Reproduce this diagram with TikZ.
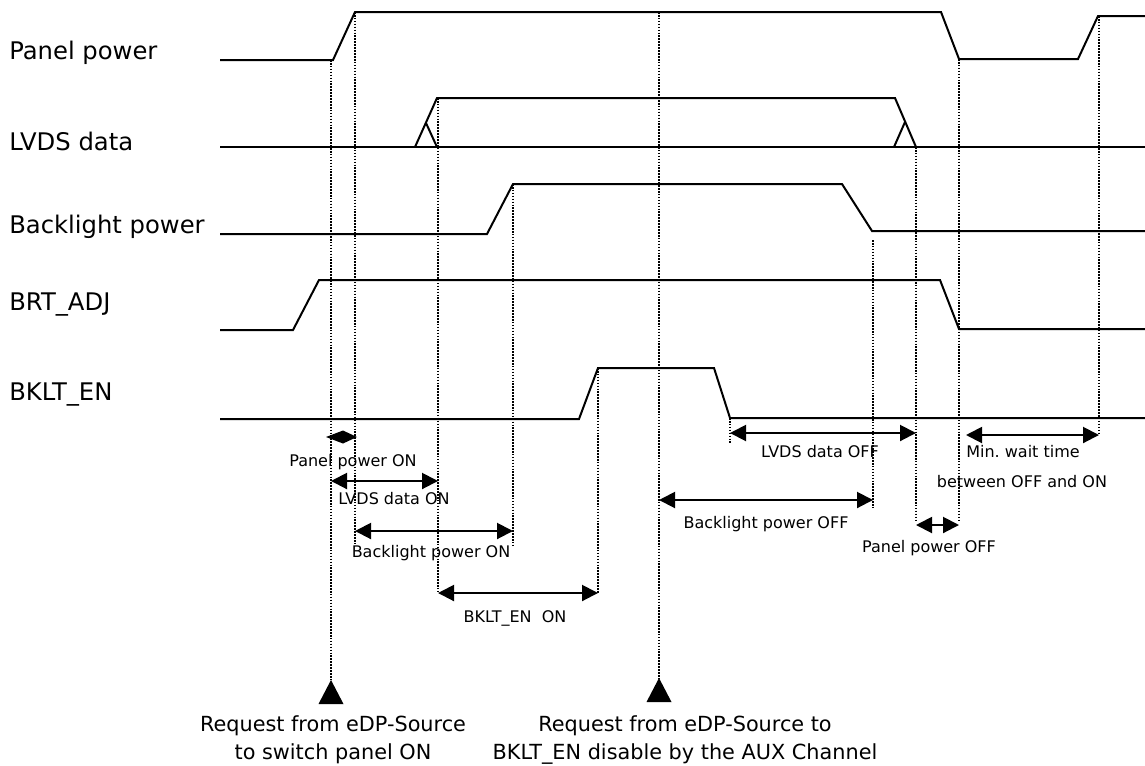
\documentclass[tikz,border=0pt]{standalone}
\usepackage{fontspec}
\setmainfont{DejaVu Sans}
\usepackage{tikz}
\usetikzlibrary{arrows.meta}
\usetikzlibrary{calc}

\begin{document}
\begin{tikzpicture}[x=0.75pt,y=-0.75pt,>={Triangle[length=12pt,width=12pt]},
sig/.style={line width=1.5pt},
guide/.style={line width=1.2pt,dash pattern=on 1.2pt off 1pt},
dim/.style={<->,line width=1.5pt},
sname/.style={anchor=base west,inner sep=0pt,font=\fontsize{18.2}{21}\selectfont},
tlbl/.style={anchor=base,inner sep=0pt,font=\fontsize{12}{14}\selectfont},
req/.style={anchor=north,align=center,inner sep=0pt,font=\fontsize{15.6}{21}\selectfont}]
\useasboundingbox (0,0) rectangle (1145,765);
\node [sname] (pp) at (9,59) {Panel power};
\node [sname] (lv) at (9,150) {LVDS data};
\node [sname] (bl) at (9,233) {Backlight power};
\node [sname] (brt) at (9,310) {BRT\_ADJ};
\node [sname] (en) at (9,400) {BKLT\_EN};
% waveforms
\draw [sig] (220,60) -- (333,60) -- (355,12) -- (941,12) -- (959,59) -- (1078,59) -- (1098,16) -- (1145,16);
\draw [sig] (220,147) -- (1145,147);
\draw [sig] (415,147) -- (437,98) -- (895,98) -- (916,147);
\draw [sig] (426,123) -- (437,147);
\draw [sig] (894,147) -- (905,122);
\draw [sig] (220,234) -- (487,234) -- (513,184) -- (842,184) -- (872,231) -- (1145,231);
\draw [sig] (220,330) -- (293,330) -- (319,280) -- (940,280) -- (959,329) -- (1145,329);
\draw [sig] (220,419) -- (579,419) -- (598,368) -- (714,368) -- (730,418) -- (1145,418);
% request marks
\coordinate (reqon) at (331,680);
\coordinate (reqoff) at (659,678);
\fill (reqon) -- ++(-12.5,24) -- ++(25,0) -- cycle;
\fill (reqoff) -- ++(-12.5,24) -- ++(25,0) -- cycle;
\node [req] (rqa) at (333,715) {Request from eDP-Source\\to switch panel ON};
\node [req] (rqb) at (685,715) {Request from eDP-Source to\\BKLT\_EN disable by the AUX Channel};
% guide lines
\foreach \n/\x/\ya/\yb in {g1/331/60/680, g2/355/12/543, g3/438/98/593, g4/513/184/546,
  g5/598/368/593, g6/659/12/678, g7/730/418/443, g8/873/240/508, g9/916/147/522,
  g10/959/59/522, g11/1099/16/435}
{
\coordinate (\n) at (\x,\ya);
\coordinate (\n b) at (\x,\yb);
\draw [guide] (\n) -- (\n b);
}
% timings
\coordinate (ppa) at (g1 |- 0,437);
\coordinate (ppb) at (g2 |- 0,437);
\fill ($(ppa)+(-5,0)$) -- ($(ppa)!0.5!(ppb)+(0,-6.5)$) -- ($(ppb)+(2,0)$) -- ($(ppa)!0.5!(ppb)+(0,6.5)$) -- cycle;
\node [tlbl] (ppon) at (353,466) {Panel power ON};
\draw [dim] (g1 |- 0,481) -- (g3 |- 0,481);
\node [tlbl] (lvon) at (394,504) {LVDS data ON};
\draw [dim] (g2 |- 0,531) -- (g4 |- 0,531);
\node [tlbl] (blon) at (431,557) {Backlight power ON};
\draw [dim] (g3 |- 0,593) -- (g5 |- 0,593);
\node [tlbl] (enon) at (515,622) {BKLT\_EN~ ON};
\draw [dim] (g7 |- 0,433) -- (g9 |- 0,433);
\node [tlbl] (lvoff) at (820,457) {LVDS data OFF};
\draw [dim] (g6 |- 0,500) -- (g8 |- 0,500);
\node [tlbl] (bloff) at (766,528) {Backlight power OFF};
\draw [dim] (g9 |- 0,525) -- (g10 |- 0,525);
\node [tlbl] (ppoff) at (929,552) {Panel power OFF};
\coordinate (wt) at (966,435);
\draw [dim] (wt) -- (g11 |- wt);
\node [tlbl] (wta) at (1023,457) {Min.\ wait time};
\node [tlbl] (wtb) at (1022,487) {between OFF and ON};
\end{tikzpicture}
\end{document}
